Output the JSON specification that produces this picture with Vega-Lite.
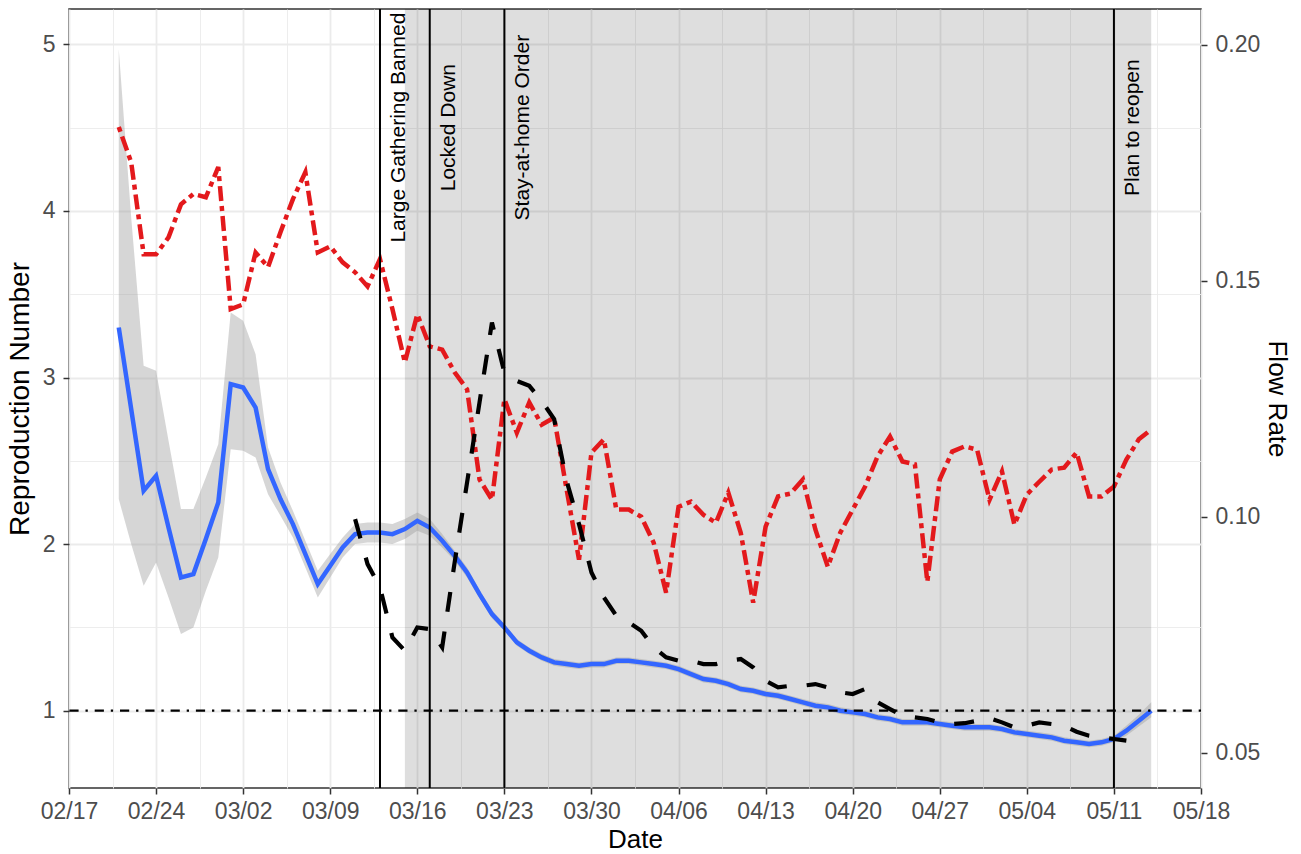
{
  "$schema": "https://vega.github.io/schema/vega-lite/v6.json",
  "width": 1132,
  "height": 779,
  "autosize": {"type": "none"},
  "padding": {"left": 69, "top": 9, "right": 100, "bottom": 66},
  "config": {
    "font": "Liberation Sans",
    "view": {"stroke": "#333333", "strokeWidth": 1.5},
    "axis": {
      "labelFont": "Liberation Sans",
      "titleFont": "Liberation Sans",
      "labelFontSize": 23,
      "labelColor": "#4D4D4D",
      "tickColor": "#333333",
      "tickWidth": 1.5,
      "tickSize": 6,
      "domain": false,
      "gridColor": "#EBEBEB",
      "titleFontWeight": "normal",
      "titleColor": "#000000"
    }
  },
  "datasets": {
    "r": [
      {"date": "2020-02-21", "R": 3.30, "lo": 2.27, "hi": 4.97},
      {"date": "2020-02-22", "R": 2.81, "lo": 2.00, "hi": 3.96},
      {"date": "2020-02-23", "R": 2.32, "lo": 1.75, "hi": 3.07},
      {"date": "2020-02-24", "R": 2.41, "lo": 1.89, "hi": 3.04},
      {"date": "2020-02-25", "R": 2.10, "lo": 1.68, "hi": 2.62},
      {"date": "2020-02-26", "R": 1.80, "lo": 1.46, "hi": 2.21},
      {"date": "2020-02-27", "R": 1.82, "lo": 1.50, "hi": 2.21},
      {"date": "2020-02-28", "R": 2.03, "lo": 1.72, "hi": 2.40},
      {"date": "2020-02-29", "R": 2.25, "lo": 1.92, "hi": 2.60},
      {"date": "2020-03-01", "R": 2.96, "lo": 2.57, "hi": 3.39},
      {"date": "2020-03-02", "R": 2.94, "lo": 2.56, "hi": 3.34},
      {"date": "2020-03-03", "R": 2.82, "lo": 2.52, "hi": 3.14},
      {"date": "2020-03-04", "R": 2.45, "lo": 2.30, "hi": 2.58},
      {"date": "2020-03-05", "R": 2.27, "lo": 2.17, "hi": 2.37},
      {"date": "2020-03-06", "R": 2.12, "lo": 2.04, "hi": 2.20},
      {"date": "2020-03-07", "R": 1.94, "lo": 1.86, "hi": 2.02},
      {"date": "2020-03-08", "R": 1.76, "lo": 1.68, "hi": 1.84},
      {"date": "2020-03-09", "R": 1.87, "lo": 1.80, "hi": 1.94},
      {"date": "2020-03-10", "R": 1.98, "lo": 1.92, "hi": 2.04},
      {"date": "2020-03-11", "R": 2.06, "lo": 2.00, "hi": 2.12},
      {"date": "2020-03-12", "R": 2.07, "lo": 2.01, "hi": 2.13},
      {"date": "2020-03-13", "R": 2.07, "lo": 2.01, "hi": 2.13},
      {"date": "2020-03-14", "R": 2.06, "lo": 2.00, "hi": 2.12},
      {"date": "2020-03-15", "R": 2.09, "lo": 2.03, "hi": 2.15},
      {"date": "2020-03-16", "R": 2.14, "lo": 2.08, "hi": 2.19},
      {"date": "2020-03-17", "R": 2.10, "lo": 2.05, "hi": 2.15},
      {"date": "2020-03-18", "R": 2.02, "lo": 1.98, "hi": 2.06},
      {"date": "2020-03-19", "R": 1.93, "lo": 1.90, "hi": 1.96},
      {"date": "2020-03-20", "R": 1.83, "lo": 1.80, "hi": 1.86},
      {"date": "2020-03-21", "R": 1.70, "lo": 1.675, "hi": 1.725},
      {"date": "2020-03-22", "R": 1.58, "lo": 1.555, "hi": 1.605},
      {"date": "2020-03-23", "R": 1.50, "lo": 1.48, "hi": 1.52},
      {"date": "2020-03-24", "R": 1.41, "lo": 1.39, "hi": 1.43},
      {"date": "2020-03-25", "R": 1.36, "lo": 1.34, "hi": 1.38},
      {"date": "2020-03-26", "R": 1.32, "lo": 1.30, "hi": 1.34},
      {"date": "2020-03-27", "R": 1.29, "lo": 1.27, "hi": 1.31},
      {"date": "2020-03-28", "R": 1.28, "lo": 1.26, "hi": 1.30},
      {"date": "2020-03-29", "R": 1.27, "lo": 1.25, "hi": 1.29},
      {"date": "2020-03-30", "R": 1.28, "lo": 1.26, "hi": 1.30},
      {"date": "2020-03-31", "R": 1.28, "lo": 1.26, "hi": 1.30},
      {"date": "2020-04-01", "R": 1.30, "lo": 1.28, "hi": 1.32},
      {"date": "2020-04-02", "R": 1.30, "lo": 1.28, "hi": 1.32},
      {"date": "2020-04-03", "R": 1.29, "lo": 1.27, "hi": 1.31},
      {"date": "2020-04-04", "R": 1.28, "lo": 1.26, "hi": 1.30},
      {"date": "2020-04-05", "R": 1.27, "lo": 1.25, "hi": 1.29},
      {"date": "2020-04-06", "R": 1.25, "lo": 1.23, "hi": 1.27},
      {"date": "2020-04-07", "R": 1.22, "lo": 1.20, "hi": 1.24},
      {"date": "2020-04-08", "R": 1.19, "lo": 1.17, "hi": 1.21},
      {"date": "2020-04-09", "R": 1.18, "lo": 1.16, "hi": 1.20},
      {"date": "2020-04-10", "R": 1.16, "lo": 1.14, "hi": 1.18},
      {"date": "2020-04-11", "R": 1.13, "lo": 1.11, "hi": 1.15},
      {"date": "2020-04-12", "R": 1.12, "lo": 1.10, "hi": 1.14},
      {"date": "2020-04-13", "R": 1.10, "lo": 1.08, "hi": 1.12},
      {"date": "2020-04-14", "R": 1.09, "lo": 1.07, "hi": 1.11},
      {"date": "2020-04-15", "R": 1.07, "lo": 1.05, "hi": 1.09},
      {"date": "2020-04-16", "R": 1.05, "lo": 1.03, "hi": 1.07},
      {"date": "2020-04-17", "R": 1.03, "lo": 1.01, "hi": 1.05},
      {"date": "2020-04-18", "R": 1.02, "lo": 1.00, "hi": 1.04},
      {"date": "2020-04-19", "R": 1.00, "lo": 0.98, "hi": 1.02},
      {"date": "2020-04-20", "R": 0.99, "lo": 0.97, "hi": 1.01},
      {"date": "2020-04-21", "R": 0.98, "lo": 0.96, "hi": 1.00},
      {"date": "2020-04-22", "R": 0.96, "lo": 0.94, "hi": 0.98},
      {"date": "2020-04-23", "R": 0.95, "lo": 0.93, "hi": 0.97},
      {"date": "2020-04-24", "R": 0.93, "lo": 0.91, "hi": 0.95},
      {"date": "2020-04-25", "R": 0.93, "lo": 0.91, "hi": 0.95},
      {"date": "2020-04-26", "R": 0.93, "lo": 0.91, "hi": 0.95},
      {"date": "2020-04-27", "R": 0.92, "lo": 0.90, "hi": 0.94},
      {"date": "2020-04-28", "R": 0.91, "lo": 0.89, "hi": 0.93},
      {"date": "2020-04-29", "R": 0.90, "lo": 0.88, "hi": 0.92},
      {"date": "2020-04-30", "R": 0.90, "lo": 0.88, "hi": 0.92},
      {"date": "2020-05-01", "R": 0.90, "lo": 0.88, "hi": 0.92},
      {"date": "2020-05-02", "R": 0.89, "lo": 0.87, "hi": 0.91},
      {"date": "2020-05-03", "R": 0.87, "lo": 0.85, "hi": 0.89},
      {"date": "2020-05-04", "R": 0.86, "lo": 0.84, "hi": 0.88},
      {"date": "2020-05-05", "R": 0.85, "lo": 0.83, "hi": 0.87},
      {"date": "2020-05-06", "R": 0.84, "lo": 0.82, "hi": 0.86},
      {"date": "2020-05-07", "R": 0.82, "lo": 0.80, "hi": 0.84},
      {"date": "2020-05-08", "R": 0.81, "lo": 0.79, "hi": 0.83},
      {"date": "2020-05-09", "R": 0.80, "lo": 0.78, "hi": 0.82},
      {"date": "2020-05-10", "R": 0.81, "lo": 0.79, "hi": 0.83},
      {"date": "2020-05-11", "R": 0.83, "lo": 0.81, "hi": 0.85},
      {"date": "2020-05-12", "R": 0.88, "lo": 0.85, "hi": 0.91},
      {"date": "2020-05-13", "R": 0.94, "lo": 0.905, "hi": 0.975},
      {"date": "2020-05-14", "R": 1.00, "lo": 0.96, "hi": 1.05}
    ],
    "flow": [
      {"date": "2020-02-21", "f": 0.1826},
      {"date": "2020-02-22", "f": 0.1751},
      {"date": "2020-02-23", "f": 0.1556},
      {"date": "2020-02-24", "f": 0.1556},
      {"date": "2020-02-25", "f": 0.1592},
      {"date": "2020-02-26", "f": 0.1662},
      {"date": "2020-02-27", "f": 0.1684},
      {"date": "2020-02-28", "f": 0.1677},
      {"date": "2020-02-29", "f": 0.1741},
      {"date": "2020-03-01", "f": 0.1440},
      {"date": "2020-03-02", "f": 0.1450},
      {"date": "2020-03-03", "f": 0.1560},
      {"date": "2020-03-04", "f": 0.1529},
      {"date": "2020-03-05", "f": 0.1603},
      {"date": "2020-03-06", "f": 0.1673},
      {"date": "2020-03-07", "f": 0.1730},
      {"date": "2020-03-08", "f": 0.1560},
      {"date": "2020-03-09", "f": 0.1573},
      {"date": "2020-03-10", "f": 0.1539},
      {"date": "2020-03-11", "f": 0.1518},
      {"date": "2020-03-12", "f": 0.1488},
      {"date": "2020-03-13", "f": 0.1546},
      {"date": "2020-03-14", "f": 0.1440},
      {"date": "2020-03-15", "f": 0.1327},
      {"date": "2020-03-16", "f": 0.1429},
      {"date": "2020-03-17", "f": 0.1361},
      {"date": "2020-03-18", "f": 0.1354},
      {"date": "2020-03-19", "f": 0.1306},
      {"date": "2020-03-20", "f": 0.1270},
      {"date": "2020-03-21", "f": 0.1079},
      {"date": "2020-03-22", "f": 0.1036},
      {"date": "2020-03-23", "f": 0.1249},
      {"date": "2020-03-24", "f": 0.1178},
      {"date": "2020-03-25", "f": 0.1242},
      {"date": "2020-03-26", "f": 0.1195},
      {"date": "2020-03-27", "f": 0.1210},
      {"date": "2020-03-28", "f": 0.1058},
      {"date": "2020-03-29", "f": 0.0909},
      {"date": "2020-03-30", "f": 0.1136},
      {"date": "2020-03-31", "f": 0.1164},
      {"date": "2020-04-01", "f": 0.1015},
      {"date": "2020-04-02", "f": 0.1015},
      {"date": "2020-04-03", "f": 0.1000},
      {"date": "2020-04-04", "f": 0.0945},
      {"date": "2020-04-05", "f": 0.0839},
      {"date": "2020-04-06", "f": 0.1021},
      {"date": "2020-04-07", "f": 0.1032},
      {"date": "2020-04-08", "f": 0.1004},
      {"date": "2020-04-09", "f": 0.0987},
      {"date": "2020-04-10", "f": 0.1051},
      {"date": "2020-04-11", "f": 0.0966},
      {"date": "2020-04-12", "f": 0.0818},
      {"date": "2020-04-13", "f": 0.0979},
      {"date": "2020-04-14", "f": 0.1043},
      {"date": "2020-04-15", "f": 0.1049},
      {"date": "2020-04-16", "f": 0.1079},
      {"date": "2020-04-17", "f": 0.0973},
      {"date": "2020-04-18", "f": 0.0894},
      {"date": "2020-04-19", "f": 0.0966},
      {"date": "2020-04-20", "f": 0.1015},
      {"date": "2020-04-21", "f": 0.1064},
      {"date": "2020-04-22", "f": 0.1128},
      {"date": "2020-04-23", "f": 0.1170},
      {"date": "2020-04-24", "f": 0.1117},
      {"date": "2020-04-25", "f": 0.1111},
      {"date": "2020-04-26", "f": 0.0862},
      {"date": "2020-04-27", "f": 0.1079},
      {"date": "2020-04-28", "f": 0.1138},
      {"date": "2020-04-29", "f": 0.1149},
      {"date": "2020-04-30", "f": 0.1142},
      {"date": "2020-05-01", "f": 0.1036},
      {"date": "2020-05-02", "f": 0.1096},
      {"date": "2020-05-03", "f": 0.0983},
      {"date": "2020-05-04", "f": 0.1047},
      {"date": "2020-05-05", "f": 0.1074},
      {"date": "2020-05-06", "f": 0.1100},
      {"date": "2020-05-07", "f": 0.1104},
      {"date": "2020-05-08", "f": 0.1136},
      {"date": "2020-05-09", "f": 0.1043},
      {"date": "2020-05-10", "f": 0.1043},
      {"date": "2020-05-11", "f": 0.1064},
      {"date": "2020-05-12", "f": 0.1121},
      {"date": "2020-05-13", "f": 0.1164},
      {"date": "2020-05-14", "f": 0.1185}
    ],
    "black": [
      {"date": "2020-03-11", "v": 2.15},
      {"date": "2020-03-12", "v": 1.88},
      {"date": "2020-03-13", "v": 1.74},
      {"date": "2020-03-14", "v": 1.44},
      {"date": "2020-03-15", "v": 1.36},
      {"date": "2020-03-16", "v": 1.50},
      {"date": "2020-03-17", "v": 1.49},
      {"date": "2020-03-18", "v": 1.38},
      {"date": "2020-03-19", "v": 1.89},
      {"date": "2020-03-20", "v": 2.37},
      {"date": "2020-03-21", "v": 2.85},
      {"date": "2020-03-22", "v": 3.33},
      {"date": "2020-03-23", "v": 3.03},
      {"date": "2020-03-24", "v": 2.98},
      {"date": "2020-03-25", "v": 2.95},
      {"date": "2020-03-26", "v": 2.86},
      {"date": "2020-03-27", "v": 2.75},
      {"date": "2020-03-28", "v": 2.38},
      {"date": "2020-03-29", "v": 2.12},
      {"date": "2020-03-30", "v": 1.83},
      {"date": "2020-03-31", "v": 1.68},
      {"date": "2020-04-01", "v": 1.57},
      {"date": "2020-04-02", "v": 1.53},
      {"date": "2020-04-03", "v": 1.48},
      {"date": "2020-04-04", "v": 1.38},
      {"date": "2020-04-05", "v": 1.32},
      {"date": "2020-04-06", "v": 1.30},
      {"date": "2020-04-07", "v": 1.30},
      {"date": "2020-04-08", "v": 1.28},
      {"date": "2020-04-09", "v": 1.28},
      {"date": "2020-04-10", "v": 1.30},
      {"date": "2020-04-11", "v": 1.31},
      {"date": "2020-04-12", "v": 1.26},
      {"date": "2020-04-13", "v": 1.18},
      {"date": "2020-04-14", "v": 1.14},
      {"date": "2020-04-15", "v": 1.15},
      {"date": "2020-04-16", "v": 1.15},
      {"date": "2020-04-17", "v": 1.16},
      {"date": "2020-04-18", "v": 1.14},
      {"date": "2020-04-19", "v": 1.11},
      {"date": "2020-04-20", "v": 1.10},
      {"date": "2020-04-21", "v": 1.13},
      {"date": "2020-04-22", "v": 1.05},
      {"date": "2020-04-23", "v": 1.01},
      {"date": "2020-04-24", "v": 0.97},
      {"date": "2020-04-25", "v": 0.96},
      {"date": "2020-04-26", "v": 0.95},
      {"date": "2020-04-27", "v": 0.93},
      {"date": "2020-04-28", "v": 0.92},
      {"date": "2020-04-29", "v": 0.925},
      {"date": "2020-04-30", "v": 0.94},
      {"date": "2020-05-01", "v": 0.955},
      {"date": "2020-05-02", "v": 0.93},
      {"date": "2020-05-03", "v": 0.90},
      {"date": "2020-05-04", "v": 0.91},
      {"date": "2020-05-05", "v": 0.93},
      {"date": "2020-05-06", "v": 0.92},
      {"date": "2020-05-07", "v": 0.91},
      {"date": "2020-05-08", "v": 0.874},
      {"date": "2020-05-09", "v": 0.85},
      {"date": "2020-05-10", "v": 0.84},
      {"date": "2020-05-11", "v": 0.83},
      {"date": "2020-05-12", "v": 0.82}
    ],
    "events": [
      {"date": "2020-03-13", "label": "Large Gathering Banned"},
      {"date": "2020-03-17", "label": "Locked Down"},
      {"date": "2020-03-23", "label": "Stay-at-home Order"},
      {"date": "2020-05-11", "label": "Plan to reopen"}
    ],
    "shade": [
      {"start": "2020-03-15", "end": "2020-05-14"}
    ]
  },
  "layer": [
    {
      "data": {"name": "r"},
      "mark": {"type": "point", "opacity": 0},
      "encoding": {
        "x": {
          "field": "date", "type": "temporal",
          "scale": {"type": "utc", "nice": false, "domain": [{"year": 2020, "month": 2, "date": 17, "utc": true}, {"year": 2020, "month": 5, "date": 18, "utc": true}]},
          "axis": {
            "orient": "bottom", "grid": true, "gridWidth": 0.9, "labels": false, "ticks": false, "domain": false, "title": null,
            "values": [
              {"year": 2020, "month": 2, "date": 20, "hours": 12, "utc": true},
              {"year": 2020, "month": 2, "date": 27, "hours": 12, "utc": true},
              {"year": 2020, "month": 3, "date": 5, "hours": 12, "utc": true},
              {"year": 2020, "month": 3, "date": 12, "hours": 12, "utc": true},
              {"year": 2020, "month": 3, "date": 19, "hours": 12, "utc": true},
              {"year": 2020, "month": 3, "date": 26, "hours": 12, "utc": true},
              {"year": 2020, "month": 4, "date": 2, "hours": 12, "utc": true},
              {"year": 2020, "month": 4, "date": 9, "hours": 12, "utc": true},
              {"year": 2020, "month": 4, "date": 16, "hours": 12, "utc": true},
              {"year": 2020, "month": 4, "date": 23, "hours": 12, "utc": true},
              {"year": 2020, "month": 4, "date": 30, "hours": 12, "utc": true},
              {"year": 2020, "month": 5, "date": 7, "hours": 12, "utc": true},
              {"year": 2020, "month": 5, "date": 14, "hours": 12, "utc": true}
            ]
          }
        },
        "y": {
          "field": "R", "type": "quantitative",
          "scale": {"domain": [0.536, 5.212], "nice": false, "zero": false},
          "axis": {"orient": "left", "values": [1.5, 2.5, 3.5, 4.5], "grid": true, "gridWidth": 0.9, "labels": false, "ticks": false, "domain": false, "title": null}
        }
      }
    },
    {
      "data": {"name": "r"},
      "mark": {"type": "point", "opacity": 0},
      "encoding": {
        "x": {
          "field": "date", "type": "temporal",
          "scale": {"type": "utc", "nice": false, "domain": [{"year": 2020, "month": 2, "date": 17, "utc": true}, {"year": 2020, "month": 5, "date": 18, "utc": true}]},
          "axis": {
            "orient": "bottom", "format": "%m/%d", "grid": true, "gridWidth": 1.8, "labelFlush": false, "labelOverlap": false,
            "labelPadding": 6, "title": "Date", "titleFontSize": 26, "titlePadding": 3,
            "values": [
              {"year": 2020, "month": 2, "date": 17, "utc": true},
              {"year": 2020, "month": 2, "date": 24, "utc": true},
              {"year": 2020, "month": 3, "date": 2, "utc": true},
              {"year": 2020, "month": 3, "date": 9, "utc": true},
              {"year": 2020, "month": 3, "date": 16, "utc": true},
              {"year": 2020, "month": 3, "date": 23, "utc": true},
              {"year": 2020, "month": 3, "date": 30, "utc": true},
              {"year": 2020, "month": 4, "date": 6, "utc": true},
              {"year": 2020, "month": 4, "date": 13, "utc": true},
              {"year": 2020, "month": 4, "date": 20, "utc": true},
              {"year": 2020, "month": 4, "date": 27, "utc": true},
              {"year": 2020, "month": 5, "date": 4, "utc": true},
              {"year": 2020, "month": 5, "date": 11, "utc": true},
              {"year": 2020, "month": 5, "date": 18, "utc": true}
            ]
          }
        },
        "y": {
          "field": "R", "type": "quantitative",
          "scale": {"domain": [0.536, 5.212], "nice": false, "zero": false},
          "axis": {"orient": "left", "values": [1, 2, 3, 4, 5], "grid": true, "gridWidth": 1.8, "labelPadding": 8, "title": "Reproduction Number", "titleFontSize": 28, "titlePadding": 8}
        }
      }
    },
    {
      "data": {"name": "shade"},
      "mark": {"type": "rect", "color": "#000000", "opacity": 0.13},
      "encoding": {
        "x": {"field": "start", "type": "temporal", "scale": {"type": "utc", "nice": false, "domain": [{"year": 2020, "month": 2, "date": 17, "utc": true}, {"year": 2020, "month": 5, "date": 18, "utc": true}]}, "axis": null},
        "x2": {"field": "end"}
      }
    },
    {
      "data": {"name": "r"},
      "mark": {"type": "area", "color": "#999999", "opacity": 0.4},
      "encoding": {
        "x": {"field": "date", "type": "temporal", "scale": {"type": "utc", "nice": false, "domain": [{"year": 2020, "month": 2, "date": 17, "utc": true}, {"year": 2020, "month": 5, "date": 18, "utc": true}]}, "axis": null},
        "y": {"field": "lo", "type": "quantitative", "scale": {"domain": [0.536, 5.212], "nice": false, "zero": false}, "axis": null},
        "y2": {"field": "hi"}
      }
    },
    {
      "data": {"name": "r"},
      "mark": {"type": "line", "color": "#3366FF", "strokeWidth": 4.5},
      "encoding": {
        "x": {"field": "date", "type": "temporal", "scale": {"type": "utc", "nice": false, "domain": [{"year": 2020, "month": 2, "date": 17, "utc": true}, {"year": 2020, "month": 5, "date": 18, "utc": true}]}, "axis": null},
        "y": {"field": "R", "type": "quantitative", "scale": {"domain": [0.536, 5.212], "nice": false, "zero": false}, "axis": null}
      }
    },
    {
      "data": {"name": "flow"},
      "mark": {"type": "line", "color": "#E3191C", "strokeWidth": 4.5, "strokeDash": [5, 5, 15, 5]},
      "encoding": {
        "x": {"field": "date", "type": "temporal", "scale": {"type": "utc", "nice": false, "domain": [{"year": 2020, "month": 2, "date": 17, "utc": true}, {"year": 2020, "month": 5, "date": 18, "utc": true}]}, "axis": null},
        "y": {
          "field": "f", "type": "quantitative",
          "scale": {"domain": [0.0425, 0.2076], "nice": false, "zero": false},
          "axis": {"orient": "right", "values": [0.05, 0.1, 0.15, 0.2], "format": ".2f", "grid": false, "labelPadding": 8, "title": "Flow Rate", "titleFontSize": 26, "titlePadding": 4}
        }
      }
    },
    {
      "data": {"name": "black"},
      "mark": {"type": "line", "color": "#000000", "strokeWidth": 4.2, "strokeDash": [20, 20]},
      "encoding": {
        "x": {"field": "date", "type": "temporal", "scale": {"type": "utc", "nice": false, "domain": [{"year": 2020, "month": 2, "date": 17, "utc": true}, {"year": 2020, "month": 5, "date": 18, "utc": true}]}, "axis": null},
        "y": {"field": "v", "type": "quantitative", "scale": {"domain": [0.536, 5.212], "nice": false, "zero": false}, "axis": null}
      }
    },
    {
      "data": {"values": [{}]},
      "mark": {"type": "rule", "color": "#000000", "strokeWidth": 2.2, "strokeDash": [2.3, 6.9, 9.2, 6.9]},
      "encoding": {
        "y": {"datum": 1, "type": "quantitative", "scale": {"domain": [0.536, 5.212], "nice": false, "zero": false}, "axis": null}
      }
    },
    {
      "data": {"name": "events"},
      "mark": {"type": "rule", "color": "#000000", "strokeWidth": 2},
      "encoding": {
        "x": {"field": "date", "type": "temporal", "scale": {"type": "utc", "nice": false, "domain": [{"year": 2020, "month": 2, "date": 17, "utc": true}, {"year": 2020, "month": 5, "date": 18, "utc": true}]}, "axis": null}
      }
    },
    {
      "data": {"name": "events"},
      "mark": {"type": "text", "angle": 270, "align": "center", "baseline": "top", "dy": 8, "fontSize": 21, "font": "Liberation Sans", "color": "#000000"},
      "encoding": {
        "x": {"field": "date", "type": "temporal", "scale": {"type": "utc", "nice": false, "domain": [{"year": 2020, "month": 2, "date": 17, "utc": true}, {"year": 2020, "month": 5, "date": 18, "utc": true}]}, "axis": null},
        "y": {"datum": 4.5, "type": "quantitative", "scale": {"domain": [0.536, 5.212], "nice": false, "zero": false}, "axis": null},
        "text": {"field": "label"}
      }
    }
  ],
  "resolve": {"scale": {"y": "independent"}, "axis": {"x": "independent"}}
}
